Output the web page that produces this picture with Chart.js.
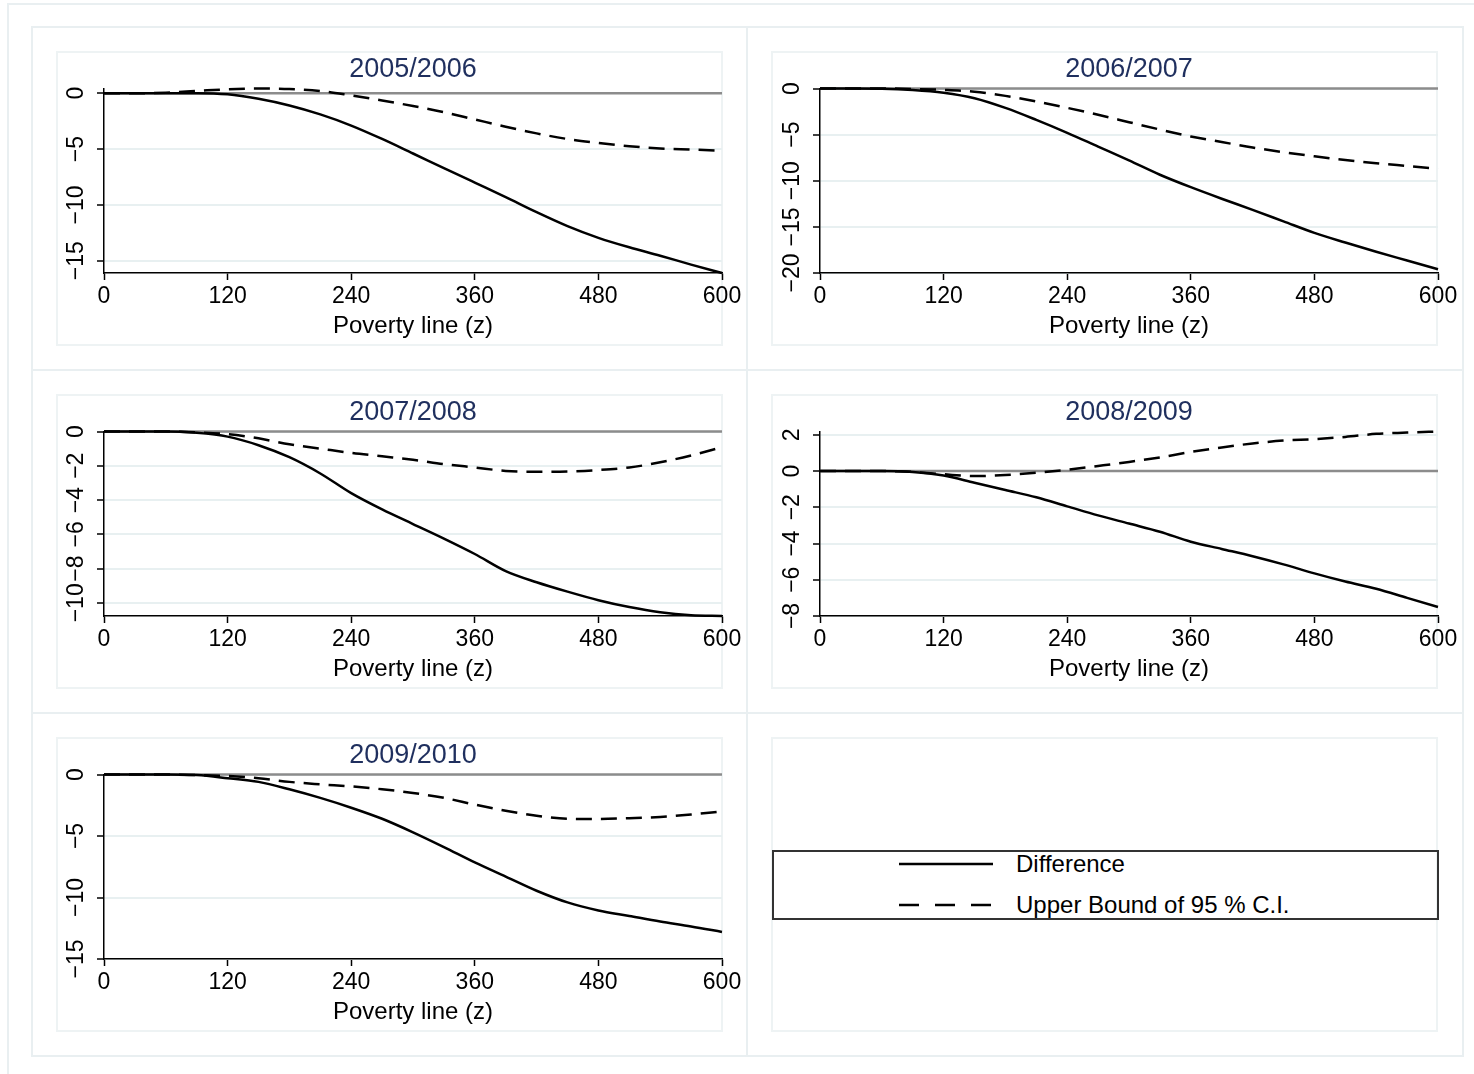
<!DOCTYPE html>
<html>
<head>
<meta charset="utf-8">
<script src="https://cdn.jsdelivr.net/npm/chart.js@4.4.1/dist/chart.umd.min.js"></script>
<style>
  html, body { margin: 0; padding: 0; background: #fff; }
  body { width: 1474px; height: 1074px; position: relative; overflow: hidden; font-family: "Liberation Sans", Arial, sans-serif; }
  .frame { position: absolute; box-sizing: border-box; border: 2px solid #e9eff1; }
  .rule { position: absolute; background: #e9eff1; }
  .box { position: absolute; box-sizing: border-box; border: 2px solid #eef3f4; width: 667px; height: 295px; }
  canvas { position: absolute; }
  .legend { position: absolute; left: 772px; top: 850px; width: 667px; height: 70px; box-sizing: border-box; border: 2px solid #333; }
  .legend svg { position: absolute; left: 125px; }
  .legend span { position: absolute; left: 242px; font-size: 24px; line-height: 28px; color: #000; }
</style>
</head>
<body>
<div class="frame" style="left:7px;top:3px;width:1480px;height:1080px"></div>
<div class="frame" style="left:31px;top:26px;width:1433px;height:1031px"></div>
<div class="rule" style="left:746px;top:26px;width:2px;height:1031px"></div>
<div class="rule" style="left:31px;top:369px;width:1433px;height:2px"></div>
<div class="rule" style="left:31px;top:712px;width:1433px;height:2px"></div>

<div class="box" style="left:56px;top:51px"></div>
<div class="box" style="left:771px;top:51px"></div>
<div class="box" style="left:56px;top:394px"></div>
<div class="box" style="left:771px;top:394px"></div>
<div class="box" style="left:56px;top:737px"></div>
<div class="box" style="left:771px;top:737px"></div>

<canvas id="p0506" width="695" height="293" style="left:57px;top:52px"></canvas>
<canvas id="p0607" width="696" height="293" style="left:772px;top:52px"></canvas>
<canvas id="p0708" width="695" height="293" style="left:57px;top:395px"></canvas>
<canvas id="p0809" width="696" height="293" style="left:772px;top:395px"></canvas>
<canvas id="p0910" width="695" height="293" style="left:57px;top:738px"></canvas>

<div class="legend">
  <svg width="96" height="10" style="top:7px"><line x1="0" y1="5" x2="94" y2="5" stroke="#000" stroke-width="2.5"/></svg>
  <span style="top:-2px">Difference</span>
  <svg width="96" height="10" style="top:48px"><line x1="0" y1="5" x2="94" y2="5" stroke="#000" stroke-width="2.5" stroke-dasharray="20,16"/></svg>
  <span style="top:39px">Upper Bound of 95 % C.I.</span>
</div>

<script>
// poverty line grid (z) and estimated dominance curves per period
const povertyLine = [0, 30, 60, 90, 120, 150, 180, 210, 240, 270, 300, 330, 360, 390, 420, 450, 480, 510, 540, 570, 600];

const diff0506  = [0, 0, 0, 0, -0.1, -0.5, -1.1, -1.9, -2.9, -4.1, -5.4, -6.7, -8.0, -9.3, -10.65, -11.9, -12.95, -13.8, -14.55, -15.35, -16.1];
const upper0506 = [0, 0, 0.05, 0.2, 0.35, 0.42, 0.38, 0.2, -0.2, -0.65, -1.15, -1.7, -2.35, -3.0, -3.6, -4.1, -4.45, -4.75, -4.95, -5.05, -5.15];

const diff0607  = [0, 0, -0.02, -0.15, -0.45, -1.05, -2.1, -3.4, -4.8, -6.3, -7.8, -9.35, -10.7, -11.95, -13.15, -14.4, -15.65, -16.7, -17.7, -18.65, -19.6];
const upper0607 = [0, 0, 0, -0.05, -0.15, -0.35, -0.8, -1.4, -2.1, -2.85, -3.65, -4.45, -5.2, -5.8, -6.4, -6.9, -7.35, -7.75, -8.1, -8.4, -8.7];

const diff0708  = [0, 0, 0, -0.08, -0.3, -0.8, -1.5, -2.45, -3.6, -4.55, -5.4, -6.25, -7.15, -8.15, -8.8, -9.35, -9.85, -10.25, -10.55, -10.72, -10.77];
const upper0708 = [0, 0, 0, -0.05, -0.15, -0.4, -0.75, -1.0, -1.25, -1.45, -1.65, -1.9, -2.1, -2.3, -2.35, -2.33, -2.25, -2.1, -1.8, -1.4, -0.92];

const diff0809  = [0, 0, 0, -0.05, -0.25, -0.65, -1.05, -1.45, -1.95, -2.45, -2.9, -3.35, -3.9, -4.3, -4.7, -5.15, -5.65, -6.1, -6.5, -7.0, -7.5];
const upper0809 = [0, 0, 0, -0.05, -0.18, -0.28, -0.22, -0.1, 0.07, 0.28, 0.5, 0.75, 1.05, 1.3, 1.52, 1.68, 1.76, 1.88, 2.05, 2.12, 2.18];

const diff0910  = [0, 0, 0, -0.05, -0.3, -0.6, -1.2, -1.9, -2.7, -3.6, -4.7, -5.9, -7.15, -8.3, -9.45, -10.4, -11.05, -11.5, -11.95, -12.35, -12.8];
const upper0910 = [0, 0, 0, -0.05, -0.12, -0.3, -0.6, -0.8, -0.97, -1.2, -1.5, -1.9, -2.45, -2.95, -3.35, -3.6, -3.62, -3.55, -3.45, -3.25, -3.0];

const xTicks = [0, 120, 240, 360, 480, 600];
const yTicks0506 = [0, -5, -10, -15];
const yTicks0607 = [0, -5, -10, -15, -20];
const yTicks0708 = [0, -2, -4, -6, -8, -10];
const yTicks0809 = [2, 0, -2, -4, -6, -8];
const yTicks0910 = [0, -5, -10, -15];

const FONT = '"Liberation Sans", Arial, sans-serif';
Chart.defaults.font.family = FONT;

const fmt = v => v < 0 ? '\u2212' + Math.abs(v) : String(v);
const toPoints = ys => ys.map((y, i) => ({ x: povertyLine[i], y }));

const meas = document.createElement('canvas').getContext('2d');
meas.font = '23px ' + FONT;
const widest = ticks => Math.max(...ticks.map(v => meas.measureText(fmt(v)).width));

// period label above each plot, centred on the plot region
const panelTitle = {
  id: 'panelTitle',
  afterDraw(chart, args, opts) {
    const { ctx, chartArea } = chart;
    ctx.save();
    ctx.font = '27px ' + FONT;
    ctx.fillStyle = '#1f2f5e';
    ctx.textAlign = 'center';
    ctx.textBaseline = 'middle';
    ctx.fillText(opts.text, (chartArea.left + chartArea.right) / 2, 18);
    ctx.restore();
  }
};

function makePanel(id, title, diff, upper, yTicks, axisWidth) {
  const all = diff.concat(upper, yTicks);
  return new Chart(document.getElementById(id), {
    type: 'line',
    data: {
      datasets: [
        { label: 'Difference', data: toPoints(diff), borderColor: '#000', borderWidth: 2.5 },
        { label: 'Upper Bound of 95 % C.I.', data: toPoints(upper), borderColor: '#000', borderWidth: 2.5, borderDash: [16, 9] },
        { label: 'zero', data: [{ x: 0, y: 0 }, { x: 600, y: 0 }], borderColor: '#8c8c8c', borderWidth: 2.5 }
      ]
    },
    options: {
      responsive: false,
      animation: false,
      layout: { padding: { top: 36.5, right: 30, left: 0, bottom: 0 } },
      elements: { point: { radius: 0 }, line: { cubicInterpolationMode: 'monotone' } },
      datasets: { line: { clip: false } },
      plugins: { legend: { display: false }, tooltip: { enabled: false }, panelTitle: { text: title } },
      scales: {
        x: {
          type: 'linear', min: 0, max: 600,
          afterBuildTicks: s => { s.ticks = xTicks.map(v => ({ value: v })); },
          afterFit: s => { s.height = 72; },
          grid: { drawOnChartArea: false, tickColor: '#000', tickLength: 7, tickWidth: 1.5 },
          border: { color: '#000', width: 1.5 },
          ticks: { color: '#000', font: { size: 23 }, padding: 3, maxRotation: 0, autoSkip: false },
          title: { display: true, text: 'Poverty line (z)', color: '#000', font: { size: 24 }, padding: { top: 0, bottom: 4 } }
        },
        y: {
          type: 'linear', min: Math.min(...all), max: Math.max(...all),
          afterBuildTicks: s => { s.ticks = yTicks.map(v => ({ value: v })); },
          afterFit: s => { s.width = axisWidth; },
          grid: { color: '#e8f0f1', lineWidth: 2, tickColor: '#000', tickLength: 7, tickWidth: 1.5 },
          border: { color: '#000', width: 1.5 },
          ticks: {
            color: '#000', font: { size: 23 }, minRotation: 90, maxRotation: 90, autoSkip: false,
            crossAlign: 'center', padding: 20 - widest(yTicks) / 2, callback: fmt
          }
        }
      }
    },
    plugins: [panelTitle]
  });
}

makePanel('p0506', '2005/2006', diff0506, upper0506, yTicks0506, 47);
makePanel('p0607', '2006/2007', diff0607, upper0607, yTicks0607, 48);
makePanel('p0708', '2007/2008', diff0708, upper0708, yTicks0708, 47);
makePanel('p0809', '2008/2009', diff0809, upper0809, yTicks0809, 48);
makePanel('p0910', '2009/2010', diff0910, upper0910, yTicks0910, 47);
</script>
</body>
</html>
